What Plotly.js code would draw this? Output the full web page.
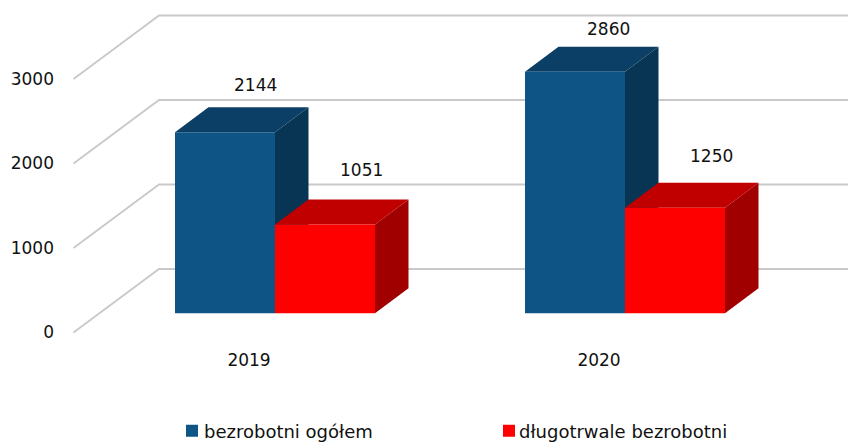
<!DOCTYPE html>
<html><head><meta charset="utf-8">
<script src="https://cdn.plot.ly/plotly-3.0.1.min.js"></script>
<style>html,body{margin:0;padding:0;background:#fff}</style></head>
<body><div id="chart" style="width:848px;height:442px"></div>
<script>
const categories = ['2019', '2020'];
const seriesNames = ['bezrobotni ogółem', 'długotrwale bezrobotni'];
const bezrobotniOgolem = [2144, 2860];
const dlugotrwaleBezrobotni = [1051, 1250];
const gridValues = [0, 1000, 2000, 3000];

const frontColors = ['#0E5484', '#FF0000'];
const topColors = ['#0B3F66', '#C00000'];
const sideColors = ['#083553', '#A00000'];
const labelNudge = [[30, 47], [36, 54], [33, 43], [36, 52]]; // px, from bar top centre

// scales: 350 px per category, 84.5 px per 1000
const pxX = 1 / 350, pxY = 1000 / 84.5;
const xs = categories.map((_, i) => i);
const barW = 100 * pxX;
const depthX = 33.5 * pxX, depthY = 25 * pxY;
const floorLift = 19.2 * pxY;           // bar floor sits above the wall's front zero
const wallX0 = (73.5 - 275) * pxX, wallX1 = (159 - 275) * pxX;
const wallDepthY = 63.5 * pxY;
const xRange = [(58 - 275) * pxX, (848 - 275) * pxX];
const yRange = [-9.5 * pxY, 332.5 * pxY];
const y2Range = [yRange[0] - floorLift, yRange[1] - floorLift];

const traces = [];
gridValues.forEach(v => traces.push({
  type: 'scatter', mode: 'lines', showlegend: false, hoverinfo: 'skip',
  x: [wallX0, wallX1, xRange[1]], y: [v, v + wallDepthY, v + wallDepthY],
  line: { color: '#C9C9C9', width: 1.8 }, xaxis: 'x', yaxis: 'y'
}));
function poly(px, py, color) {
  traces.push({
    type: 'scatter', mode: 'lines', fill: 'toself', fillcolor: color, showlegend: false,
    hoverinfo: 'skip', x: px, y: py.map(v => v + floorLift), line: { width: 0, color: color },
    xaxis: 'x', yaxis: 'y'
  });
}
[bezrobotniOgolem, dlugotrwaleBezrobotni].forEach((vals, s) => {
  vals.forEach((v, i) => {
    const l = xs[i] + (s - 1) * barW, r = l + barW;
    poly([r, r + depthX, r + depthX, r, r], [0, depthY, v + depthY, v, 0], sideColors[s]);
    poly([l, r, r + depthX, l + depthX, l], [v, v, v + depthY, v + depthY, v], topColors[s]);
  });
});
[bezrobotniOgolem, dlugotrwaleBezrobotni].forEach((vals, s) => traces.push({
  type: 'bar', name: seriesNames[s], x: xs, y: vals, marker: { color: frontColors[s], line: { width: 0 } },
  xaxis: 'x2', yaxis: 'y2', hoverinfo: 'skip', legend: s ? 'legend2' : 'legend'
}));

const font = { family: 'DejaVu Sans, sans-serif', size: 17, color: '#111' };
const legendFont = { family: 'DejaVu Sans, sans-serif', size: 18, color: '#111' };
const annotations = [];
[bezrobotniOgolem, dlugotrwaleBezrobotni].forEach((vals, s) => vals.forEach((v, i) => {
  const n = labelNudge[i * 2 + s];
  annotations.push({
    xref: 'x2', yref: 'y2', x: xs[i] + (s - 0.5) * barW, y: v, text: String(v), showarrow: false,
    xshift: n[0], yshift: n[1], font: font
  });
}));

const legendBase = {
  xref: 'container', yref: 'container', xanchor: 'left', yanchor: 'middle', y: 1 - 431 / 442,
  font: legendFont, bgcolor: 'rgba(0,0,0,0)', borderwidth: 0
};
const layout = {
  width: 848, height: 442, margin: { l: 58, r: 0, t: 0, b: 100, autoexpand: false },
  paper_bgcolor: '#fff', plot_bgcolor: 'rgba(0,0,0,0)',
  barmode: 'group', bargap: 1 - 200 / 350, bargroupgap: 0,
  font: font, annotations: annotations,
  xaxis: {
    range: xRange, tickmode: 'array', tickvals: xs.map(i => i - 26 * pxX), ticktext: categories, tickangle: 0,
    showgrid: false, zeroline: false, showline: false, ticks: 'outside', ticklen: 3, tickcolor: 'rgba(0,0,0,0)', tickfont: font
  },
  yaxis: {
    range: yRange, tickmode: 'array', tickvals: gridValues, showgrid: false, zeroline: false, showline: false,
    ticks: '', tickfont: font, ticklabelstandoff: 3
  },
  xaxis2: { range: xRange, overlaying: 'x', visible: false },
  yaxis2: { range: y2Range, overlaying: 'y', visible: false },
  showlegend: true,
  legend: Object.assign({ x: 164 / 848 }, legendBase),
  legend2: Object.assign({ x: 479 / 848 }, legendBase)
};
Plotly.newPlot('chart', traces, layout, { displayModeBar: false, staticPlot: true }).then(() => {
  // swatch sits close to its label, as in the reference
  const swatchShift = [8, 10];
  document.querySelectorAll('#chart .legendsymbols').forEach((g, i) => g.setAttribute('transform', 'translate(' + swatchShift[i] + ',0)'));
});
</script></body></html>
